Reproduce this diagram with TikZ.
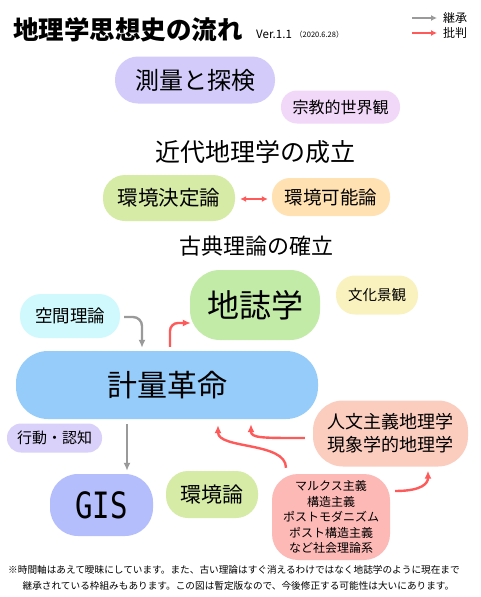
\documentclass[tikz,border=0pt]{standalone}
\usepackage{fontspec}
\setmainfont{Noto Sans CJK JP}
\newfontfamily\gismono{DejaVu Sans Mono}
\usetikzlibrary{arrows.meta,calc}
\definecolor{cSurv}{HTML}{D3CCFA}
\definecolor{cRelig}{HTML}{F2D8F8}
\definecolor{cDet}{HTML}{D6EBA6}
\definecolor{cPoss}{HTML}{FFE1B2}
\definecolor{cChishi}{HTML}{C3EBA8}
\definecolor{cCult}{HTML}{F9F2BE}
\definecolor{cSpace}{HTML}{CFF9FC}
\definecolor{cQuant}{HTML}{96CCFA}
\definecolor{cBehav}{HTML}{DAD1FA}
\definecolor{cHuman}{HTML}{FBCDBE}
\definecolor{cGis}{HTML}{B4BEFC}
\definecolor{cMarx}{HTML}{FDB9B6}
\definecolor{cGrayArr}{HTML}{9A9A9A}
\definecolor{cRedArr}{HTML}{FF5A5A}
\newcommand{\fs}[1]{\fontsize{#1}{#1}\selectfont}
\begin{document}
\begin{tikzpicture}[x=1pt,y=-1pt,
  pill/.style={inner sep=0pt, align=center, text=black},
  label/.style={inner sep=0pt, align=center, text=black},
  grayarr/.style={draw=cGrayArr, line width=2.4pt, -{Latex[length=8pt,width=7pt]}},
  redarr/.style={draw=cRedArr, line width=2.4pt, -{Latex[length=8pt,width=7pt]}},
  redboth/.style={draw=cRedArr, line width=2pt, {Latex[length=6pt,width=6pt]}-{Latex[length=6pt,width=6pt]}}
]
\useasboundingbox (0,0) rectangle (480,597);
\fill[white] (0,0) rectangle (480,597);

% title and legend
\node[label, font=\fs{25.5}\bfseries, anchor=west] (title) at (13,30) {地理学思想史の流れ};
\node[label, font=\fs{11.5}, anchor=west] (ver) at (256,34) {Ver.1.1};
\node[label, font=\fs{7.5}, anchor=west] (date) at (295,34.5) {（2020.6.28）};
\coordinate (l1a) at (412,18);
\coordinate (l1b) at (437,18);
\coordinate (l2a) at (412,33);
\coordinate (l2b) at (437,33);
\node[label, font=\fs{12}, anchor=west] (leg1) at (443,18) {継承};
\node[label, font=\fs{12}, anchor=west] (leg2) at (443,33) {批判};
\draw[grayarr, line width=2pt, -{Latex[length=6pt,width=6pt]}] (l1a) -- (l1b);
\draw[redarr, line width=2pt, -{Latex[length=6pt,width=6pt]}] (l2a) -- (l2b);

% nodes
\node[pill, fill=cSurv, minimum width=160, minimum height=47, rounded corners=23, font=\fs{24}] (surv) at (195,80) {測量と探検};
\node[pill, fill=cRelig, minimum width=119, minimum height=33, rounded corners=16, font=\fs{16}] (relig) at (340.5,107) {宗教的世界観};
\node[label, font=\fs{25}] (modern) at (255,152) {近代地理学の成立};
\node[pill, fill=cDet, minimum width=132, minimum height=46, rounded corners=22, font=\fs{20.5}] (det) at (169,198) {環境決定論};
\node[pill, fill=cPoss, minimum width=118, minimum height=38, rounded corners=18, font=\fs{18.5}] (poss) at (331,197) {環境可能論};
\node[label, font=\fs{22}] (classic) at (256,246) {古典理論の確立};
\node[pill, fill=cChishi, minimum width=130, minimum height=70, rounded corners=30, font=\fs{32}] (chishi) at (255,305) {地誌学};
\node[pill, fill=cCult, minimum width=82, minimum height=39, rounded corners=19, font=\fs{14.5}] (cult) at (377,295) {文化景観};
\node[pill, fill=cSpace, minimum width=100, minimum height=44, rounded corners=21, font=\fs{17.5}] (space) at (70,316) {空間理論};
\node[pill, fill=cQuant, minimum width=302, minimum height=68, rounded corners=32, font=\fs{30}] (quant) at (167,385) {計量革命};
\node[pill, fill=cBehav, minimum width=95, minimum height=29, rounded corners=14, font=\fs{15}] (behav) at (54.5,438) {行動・認知};
\node[pill, fill=cHuman, minimum width=155, minimum height=66, rounded corners=30, font=\fontsize{18}{23}\selectfont] (human) at (390.5,433.5) {人文主義地理学\\現象学的地理学};
\node[pill, fill=cGis, minimum width=103, minimum height=62, rounded corners=28] (gis) at (101.5,505) {\scalebox{1}[1.25]{\gismono\fs{29}GIS}};
\node[pill, fill=cDet, minimum width=92, minimum height=47, rounded corners=22, font=\fs{21}] (env) at (212,494.5) {環境論};
\node[pill, fill=cMarx, minimum width=118, minimum height=86, rounded corners=26, font=\fontsize{12}{15.5}\selectfont] (marx) at (331,517) {マルクス主義\\構造主義\\ポストモダニズム\\ポスト構造主義\\など社会理論系};

% footnote
\node[label, font=\fs{9.65}] (note1) at (234,569.5) {※時間軸はあえて曖昧にしています。また、古い理論はすぐ消えるわけではなく地誌学のように現在まで};
\node[label, font=\fs{9.65}] (note2) at (238.5,585.5) {継承されている枠組みもあります。この図は暫定版なので、今後修正する可能性は大いにあります。};

% connectors
\draw[redboth] ($(det.east)+(5,1)$) -- ($(poss.west)+(-4,2)$);
\draw[grayarr, rounded corners=9] ($(space.east)+(4,1)$) -| ($(quant.north)+(-25,-3)$);
\draw[redarr, rounded corners=8] ($(quant.north)+(3,-4)$) |- ($(chishi.west)+(1,18)$);
\draw[grayarr] ($(quant.south)+(-40,5)$) -- ($(gis.north)+(25.5,-3)$);
\draw[redarr] ($(human.west)+(-8,4.5)$) .. controls +(-42,0) and +(0,14) .. ($(quant.south)+(84,5)$);
\draw[redarr] ($(marx.north)+(-45,-6)$) .. controls +(0,-26) and +(0,24) .. ($(quant.south)+(51,6)$);
\draw[redarr] ($(marx.east)+(5,-26)$) .. controls +(28,0) and +(0,12) .. ($(human.south)+(37.5,4)$);
\end{tikzpicture}
\end{document}
